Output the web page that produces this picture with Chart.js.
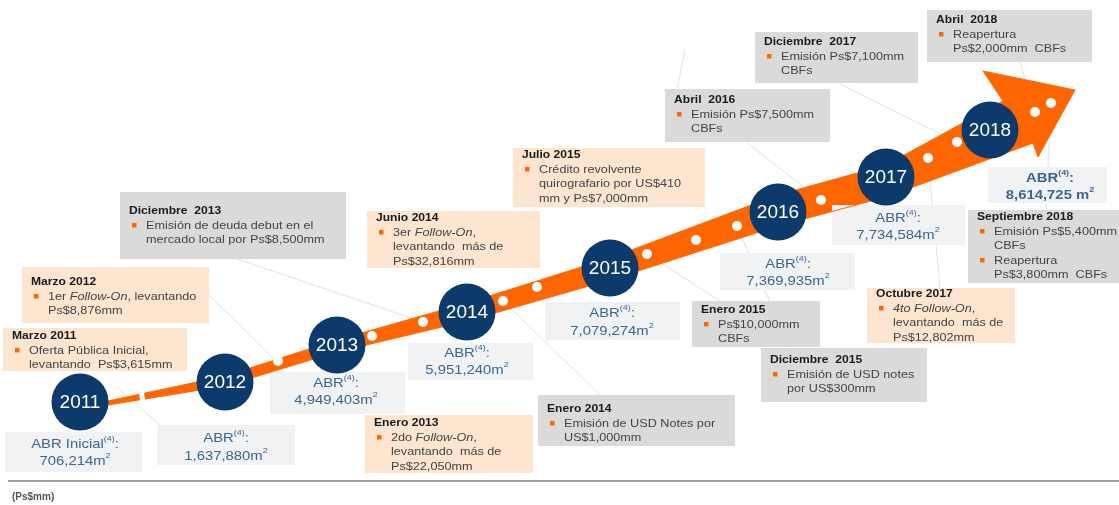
<!DOCTYPE html>
<html>
<head>
<meta charset="utf-8">
<script src="https://cdn.jsdelivr.net/npm/chart.js@4.4.1/dist/chart.umd.min.js"></script>
<style>
  html, body { margin: 0; padding: 0; background: #fff; }
  canvas { display: block; }
</style>
</head>
<body>
<canvas id="timeline" width="1119" height="505"></canvas>
<script>
// Data
const years = ['2011', '2012', '2013', '2014', '2015', '2016', '2017', '2018'];
const abrValues = [706214, 1637880, 4949403, 5951240, 7079274, 7369935, 7734584, 8614725];

const eventTitles = [
  'Marzo 2011', 'Marzo 2012', 'Enero 2013', 'Diciembre  2013', 'Enero 2014', 'Junio 2014',
  'Enero 2015', 'Julio 2015', 'Diciembre  2015', 'Abril  2016', 'Octubre 2017',
  'Diciembre  2017', 'Abril  2018', 'Septiembre 2018'
];
const eventBullets = [
  [['Oferta Pública Inicial,', 'levantando  Ps$3,615mm']],
  [['1er *Follow-On*, levantando', 'Ps$8,876mm']],
  [['2do *Follow-On*,', 'levantando  más de', 'Ps$22,050mm']],
  [['Emisión de deuda debut en el', 'mercado local por Ps$8,500mm']],
  [['Emisión de USD Notes por', 'US$1,000mm']],
  [['3er *Follow-On*,', 'levantando  más de', 'Ps$32,816mm']],
  [['Ps$10,000mm', 'CBFs']],
  [['Crédito revolvente', 'quirografario por US$410', 'mm y Ps$7,000mm']],
  [['Emisión de USD notes', 'por US$300mm']],
  [['Emisión Ps$7,500mm', 'CBFs']],
  [['*4to Follow-On*,', 'levantando  más de', 'Ps$12,802mm']],
  [['Emisión Ps$7,100mm', 'CBFs']],
  [['Reapertura', 'Ps$2,000mm  CBFs']],
  [['Emisión Ps$5,400mm', 'CBFs'], ['Reapertura', 'Ps$3,800mm  CBFs']]
];
const eventKinds = ['equity', 'equity', 'equity', 'debt', 'debt', 'equity', 'debt',
  'equity', 'debt', 'debt', 'equity', 'debt', 'debt', 'debt'];

// Layout (chart units match the canvas: x 0..1119, y 0..505 top-down)
const yearPos = [[80, 402], [225, 382], [337, 345], [467, 312], [610, 268], [778, 212], [886, 177], [990, 130]];
const arrowOutline = [
  [108, 401], [225, 376], [337, 340], [467, 303], [610, 258], [778, 195], [886, 165], [1003, 101],
  [983, 71], [1075, 90], [1038, 157], [1033, 143],
  [886, 197], [778, 226], [610, 280], [467, 321], [337, 352], [225, 386], [108, 405]
];
const arrowGap = [[141, 388], [143, 404]];
const whiteDots = [
  [278, 361], [372, 336], [423, 322], [503, 301], [537, 287], [647, 254], [696, 240],
  [737, 226], [821, 200], [928, 158], [957, 142], [1035, 112], [1051, 103]
];
const leaderLines = [
  [[207, 293], [277, 362]], [[237, 259], [423, 322]], [[503, 301], [600, 395]],
  [[747, 143], [821, 200]], [[840, 84], [957, 142]], [[1020, 62], [1035, 112]],
  [[1051, 103], [1046, 210]], [[928, 158], [940, 288]], [[737, 226], [790, 348]],
  [[647, 254], [720, 301]], [[685, 50], [677, 89]], [[117, 387], [160, 425]]
];
// [x0, y0, x1, y1, titleY]
const eventBoxes = [
  [3, 328, 187, 371, 336], [22, 267, 209, 323, 282], [365, 415, 533, 473, 423],
  [120, 192, 346, 259, 211], [538, 395, 735, 446, 409], [367, 211, 540, 268, 218],
  [692, 301, 820, 347, 310], [513, 148, 705, 207, 155], [761, 348, 927, 402, 360],
  [665, 89, 830, 142, 100], [867, 288, 1015, 343, 294], [755, 32, 918, 83, 42],
  [927, 10, 1092, 62, 20], [968, 210, 1119, 283, 217]
];
// [x0, y0, x1, y1, centerX, labelY, valueY]
const abrBoxes = [
  [5, 432, 142, 472, 75, 444, 461], [157, 425, 295, 465, 226, 438, 456],
  [270, 372, 405, 414, 336, 383, 400], [408, 343, 533, 380, 467, 353, 370],
  [545, 302, 680, 340, 612, 313, 331], [720, 253, 855, 290, 788, 264, 281],
  [832, 205, 965, 245, 898, 218, 235], [988, 167, 1107, 203, 1050, 178, 195]
];

const ORANGE = '#ff6600';
const NAVY = '#0b3a6b';
const ABR_BLUE = '#3d6592';
const BOX_FILL = { equity: '#fde5d0', debt: '#dadada' };
const SX = 1.1;
const FONT = '"Liberation Sans", Arial, sans-serif';

const pts = arr => arr.map(p => ({ x: p[0], y: p[1] }));

// rich text: *italic*, ^superscript^
function richRuns(str) {
  const out = [];
  let it = false, sup = false, buf = '';
  for (const ch of str) {
    if (ch === '*' || ch === '^') {
      if (buf) out.push({ t: buf, it, sup });
      buf = '';
      if (ch === '*') it = !it; else sup = !sup;
    } else buf += ch;
  }
  if (buf) out.push({ t: buf, it, sup });
  return out;
}
function fontFor(seg, size, weight) {
  const s = seg.sup ? size * 0.6 : size;
  return `${seg.it ? 'italic ' : ''}${weight} ${s}px ${FONT}`;
}
function richWidth(ctx, str, size, weight) {
  let w = 0;
  for (const seg of richRuns(str)) {
    ctx.font = fontFor(seg, size, weight);
    w += ctx.measureText(seg.t).width;
  }
  return w * SX;
}
function drawRich(ctx, str, x, y, size, weight, color) {
  ctx.save();
  ctx.translate(x, y);
  ctx.scale(SX, 1);
  ctx.fillStyle = color;
  ctx.textBaseline = 'middle';
  ctx.textAlign = 'left';
  let cx = 0;
  for (const seg of richRuns(str)) {
    ctx.font = fontFor(seg, size, weight);
    ctx.fillText(seg.t, cx, seg.sup ? -size * 0.38 : 0);
    cx += ctx.measureText(seg.t).width;
  }
  ctx.restore();
}

// boxes are drawn right before the arrow, so leader lines stay underneath
const boxesPlugin = {
  id: 'boxes',
  beforeDatasetDraw(chart, args) {
    if (args.meta.label !== 'arrow') return;
    const ctx = chart.ctx;
    const sx = v => chart.scales.x.getPixelForValue(v);
    const sy = v => chart.scales.y.getPixelForValue(v);
    ctx.save();
    abrBoxes.forEach((b, i) => {
      ctx.fillStyle = '#f1f2f4';
      ctx.fillRect(sx(b[0]), sy(b[1]), sx(b[2]) - sx(b[0]), sy(b[3]) - sy(b[1]));
      const bold = i === abrBoxes.length - 1 ? 'bold' : 'normal';
      const label = (i === 0 ? 'ABR Inicial' : 'ABR') + '^(4)^:';
      const value = abrValues[i].toLocaleString('en-US') + (i === abrBoxes.length - 1 ? ' ' : '') + 'm^2^';
      const size = 13.5;
      let w = richWidth(ctx, label, size, bold);
      drawRich(ctx, label, sx(b[4]) - w / 2, sy(b[5]), size, bold, ABR_BLUE);
      w = richWidth(ctx, value, size, bold);
      drawRich(ctx, value, sx(b[4]) - w / 2, sy(b[6]), size, bold, ABR_BLUE);
    });
    eventBoxes.forEach((b, i) => {
      ctx.fillStyle = BOX_FILL[eventKinds[i]];
      ctx.fillRect(sx(b[0]), sy(b[1]), sx(b[2]) - sx(b[0]), sy(b[3]) - sy(b[1]));
      const x0 = sx(b[0]);
      let y = sy(b[4]);
      drawRich(ctx, eventTitles[i], x0 + 9, y, 11, 'bold', '#1a1a1a');
      eventBullets[i].forEach(lines => {
        lines.forEach((line, k) => {
          y += 14.5;
          if (k === 0) {
            ctx.fillStyle = ORANGE;
            ctx.fillRect(x0 + 12, y - 2.5, 4.5, 4.5);
          }
          drawRich(ctx, line, x0 + 26, y, 11.5, 'normal', '#444444');
        });
      });
    });
    ctx.restore();
  },
  afterDatasetsDraw(chart) {
    const ctx = chart.ctx;
    const meta = chart.getDatasetMeta(chart.data.datasets.findIndex(d => d.label === 'years'));
    ctx.save();
    ctx.fillStyle = '#ffffff';
    ctx.font = `19px ${FONT}`;
    ctx.textAlign = 'center';
    ctx.textBaseline = 'middle';
    meta.data.forEach((el, i) => ctx.fillText(years[i], el.x, el.y + 1));
    ctx.restore();
  },
  afterDraw(chart) {
    const ctx = chart.ctx;
    ctx.save();
    ctx.strokeStyle = '#a0a0a0';
    ctx.lineWidth = 2;
    ctx.beginPath();
    ctx.moveTo(8, 481);
    ctx.lineTo(1119, 481);
    ctx.stroke();
    ctx.fillStyle = '#555555';
    ctx.font = `bold 10px ${FONT}`;
    ctx.textBaseline = 'middle';
    ctx.fillText('(Ps$mm)', 12, 497);
    ctx.restore();
  }
};

const datasets = [
  {
    label: 'years', data: pts(yearPos), order: 0,
    pointRadius: 28.5, pointBackgroundColor: NAVY, pointBorderWidth: 0, showLine: false
  },
  {
    label: 'dots', data: pts(whiteDots), order: 1,
    pointRadius: 5, pointBackgroundColor: '#ffffff', pointBorderWidth: 0, showLine: false
  },
  {
    label: 'gap', data: pts(arrowGap), order: 2,
    showLine: true, borderColor: '#ffffff', borderWidth: 5, pointRadius: 0
  },
  {
    label: 'arrow', data: pts(arrowOutline), order: 3,
    showLine: true, fill: 'shape', backgroundColor: ORANGE, borderColor: ORANGE,
    borderWidth: 1, pointRadius: 0, tension: 0
  }
];
leaderLines.forEach((seg, i) => datasets.push({
  label: 'leader' + i, data: pts(seg), order: 4,
  showLine: true, borderColor: 'rgba(205,205,205,0.6)', borderWidth: 1, pointRadius: 0
}));

new Chart(document.getElementById('timeline'), {
  type: 'scatter',
  data: { datasets },
  options: {
    responsive: false,
    animation: false,
    devicePixelRatio: 1,
    layout: { padding: 0, autoPadding: false },
    plugins: { legend: { display: false }, tooltip: { enabled: false } },
    scales: {
      x: { type: 'linear', min: 0, max: 1119, display: false },
      y: { type: 'linear', min: 0, max: 505, reverse: true, display: false }
    }
  },
  plugins: [boxesPlugin]
});
</script>
</body>
</html>
